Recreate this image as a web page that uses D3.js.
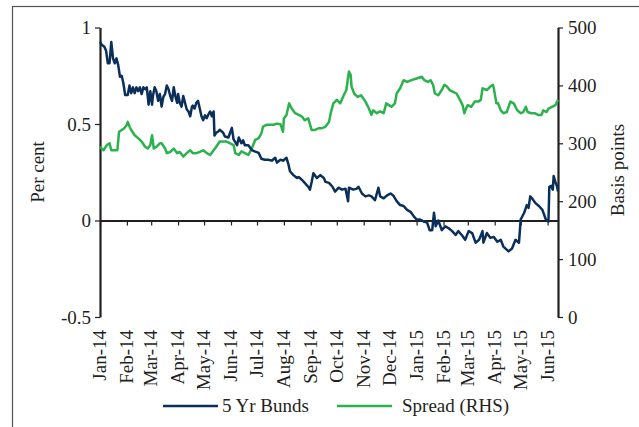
<!DOCTYPE html>
<html>
<head>
<meta charset="utf-8">
<script src="https://d3js.org/d3.v7.min.js"></script>
<style>
  body { margin: 0; background: #fff; }
  text { font-family: "Liberation Serif", serif; fill: #231f20; }
</style>
</head>
<body>
<div id="chart"></div>
<script>
// 5 Yr Bunds yield (per cent, left axis)
var bundDates = ["2014-01-01","2014-01-03","2014-01-06","2014-01-08","2014-01-10","2014-01-12","2014-01-14","2014-01-16","2014-01-18","2014-01-20","2014-01-22","2014-01-24","2014-01-26","2014-01-28","2014-01-30","2014-02-02","2014-02-04","2014-02-06","2014-02-08","2014-02-10","2014-02-12","2014-02-14","2014-02-16","2014-02-18","2014-02-20","2014-02-22","2014-02-24","2014-02-26","2014-02-28","2014-03-02","2014-03-03","2014-03-05","2014-03-07","2014-03-09","2014-03-11","2014-03-13","2014-03-15","2014-03-17","2014-03-19","2014-03-21","2014-03-23","2014-03-25","2014-03-27","2014-03-29","2014-03-31","2014-04-01","2014-04-03","2014-04-05","2014-04-07","2014-04-09","2014-04-11","2014-04-13","2014-04-15","2014-04-17","2014-04-18","2014-04-20","2014-04-22","2014-04-24","2014-04-26","2014-04-28","2014-04-30","2014-05-02","2014-05-04","2014-05-06","2014-05-08","2014-05-10","2014-05-12","2014-05-13","2014-05-15","2014-05-17","2014-05-19","2014-05-23","2014-05-25","2014-05-29","2014-06-02","2014-06-04","2014-06-08","2014-06-10","2014-06-13","2014-06-15","2014-06-17","2014-06-21","2014-06-25","2014-06-29","2014-07-03","2014-07-06","2014-07-10","2014-07-14","2014-07-18","2014-07-22","2014-07-24","2014-07-28","2014-07-31","2014-08-04","2014-08-06","2014-08-08","2014-08-12","2014-08-16","2014-08-18","2014-08-22","2014-08-25","2014-08-29","2014-08-31","2014-09-02","2014-09-04","2014-09-08","2014-09-12","2014-09-16","2014-09-18","2014-09-22","2014-09-26","2014-09-29","2014-10-03","2014-10-07","2014-10-11","2014-10-14","2014-10-15","2014-10-20","2014-10-24","2014-10-26","2014-10-30","2014-11-03","2014-11-07","2014-11-10","2014-11-14","2014-11-18","2014-11-20","2014-11-24","2014-11-28","2014-12-02","2014-12-05","2014-12-09","2014-12-13","2014-12-17","2014-12-21","2014-12-25","2014-12-29","2015-01-01","2015-01-05","2015-01-09","2015-01-13","2015-01-16","2015-01-19","2015-01-21","2015-01-23","2015-01-26","2015-01-30","2015-02-03","2015-02-07","2015-02-11","2015-02-15","2015-02-18","2015-02-22","2015-02-26","2015-03-02","2015-03-06","2015-03-10","2015-03-14","2015-03-18","2015-03-19","2015-03-23","2015-03-27","2015-03-31","2015-04-04","2015-04-08","2015-04-11","2015-04-17","2015-04-21","2015-04-25","2015-04-29","2015-05-01","2015-05-05","2015-05-08","2015-05-10","2015-05-12","2015-05-14","2015-05-18","2015-05-22","2015-05-26","2015-05-30","2015-06-02","2015-06-03","2015-06-05","2015-06-07","2015-06-08","2015-06-10","2015-06-12","2015-06-13"];
var bundValues = [0.925,0.91,0.90,0.88,0.815,0.815,0.925,0.84,0.815,0.84,0.805,0.745,0.75,0.71,0.65,0.65,0.70,0.66,0.69,0.66,0.69,0.67,0.69,0.655,0.69,0.68,0.69,0.60,0.67,0.60,0.645,0.69,0.67,0.62,0.655,0.59,0.64,0.655,0.70,0.68,0.645,0.62,0.69,0.64,0.61,0.655,0.61,0.59,0.645,0.61,0.575,0.565,0.54,0.59,0.595,0.58,0.61,0.62,0.58,0.54,0.52,0.545,0.53,0.55,0.565,0.54,0.565,0.44,0.455,0.46,0.47,0.455,0.435,0.43,0.48,0.42,0.39,0.43,0.40,0.415,0.39,0.39,0.365,0.357,0.35,0.32,0.315,0.315,0.31,0.325,0.30,0.315,0.31,0.325,0.295,0.255,0.235,0.22,0.225,0.21,0.195,0.175,0.16,0.20,0.245,0.22,0.235,0.22,0.20,0.195,0.175,0.15,0.17,0.16,0.165,0.10,0.17,0.16,0.165,0.175,0.14,0.125,0.13,0.125,0.105,0.17,0.125,0.115,0.13,0.14,0.13,0.10,0.08,0.075,0.055,0.045,0.02,0.005,0.005,-0.005,-0.01,-0.05,-0.05,0.04,-0.03,0.0,-0.05,-0.03,-0.04,-0.055,-0.075,-0.055,-0.075,-0.10,-0.055,-0.065,-0.115,-0.10,-0.055,-0.115,-0.065,-0.09,-0.085,-0.11,-0.10,-0.135,-0.16,-0.145,-0.10,-0.115,0.005,0.04,0.08,0.065,0.125,0.115,0.09,0.075,0.055,0.005,-0.005,0.175,0.18,0.16,0.23,0.20,0.175,0.15];

// Spread (basis points, right axis)
var spreadDates = ["2014-01-01","2014-01-05","2014-01-09","2014-01-12","2014-01-14","2014-01-18","2014-01-21","2014-01-23","2014-01-26","2014-01-29","2014-02-01","2014-02-02","2014-02-04","2014-02-06","2014-02-10","2014-02-14","2014-02-18","2014-02-22","2014-02-25","2014-02-28","2014-03-02","2014-03-04","2014-03-07","2014-03-11","2014-03-13","2014-03-17","2014-03-19","2014-03-23","2014-03-27","2014-03-31","2014-04-03","2014-04-07","2014-04-11","2014-04-15","2014-04-18","2014-04-22","2014-04-26","2014-04-30","2014-05-04","2014-05-08","2014-05-12","2014-05-15","2014-05-19","2014-05-23","2014-05-27","2014-05-31","2014-06-04","2014-06-06","2014-06-10","2014-06-13","2014-06-17","2014-06-21","2014-06-25","2014-06-29","2014-07-03","2014-07-06","2014-07-08","2014-07-12","2014-07-16","2014-07-20","2014-07-24","2014-07-28","2014-07-31","2014-08-01","2014-08-04","2014-08-07","2014-08-10","2014-08-14","2014-08-18","2014-08-22","2014-08-25","2014-08-29","2014-09-02","2014-09-06","2014-09-10","2014-09-14","2014-09-18","2014-09-22","2014-09-24","2014-09-27","2014-10-01","2014-10-05","2014-10-09","2014-10-12","2014-10-15","2014-10-17","2014-10-18","2014-10-21","2014-10-25","2014-10-29","2014-11-03","2014-11-07","2014-11-10","2014-11-12","2014-11-16","2014-11-20","2014-11-24","2014-11-27","2014-11-30","2014-12-03","2014-12-07","2014-12-09","2014-12-13","2014-12-17","2014-12-21","2014-12-26","2015-01-01","2015-01-07","2015-01-10","2015-01-14","2015-01-17","2015-01-20","2015-01-22","2015-01-26","2015-01-30","2015-02-02","2015-02-05","2015-02-08","2015-02-12","2015-02-16","2015-02-20","2015-02-23","2015-02-25","2015-02-27","2015-03-01","2015-03-05","2015-03-09","2015-03-13","2015-03-16","2015-03-18","2015-03-23","2015-03-27","2015-03-30","2015-03-31","2015-04-03","2015-04-05","2015-04-08","2015-04-11","2015-04-15","2015-04-19","2015-04-23","2015-04-27","2015-05-01","2015-05-04","2015-05-07","2015-05-09","2015-05-13","2015-05-17","2015-05-21","2015-05-25","2015-05-27","2015-05-31","2015-06-02","2015-06-06","2015-06-10","2015-06-13"];
var spreadValues = [294,288,297,300,288,288,288,320,323,326,332,337,329,323,314,309,303,294,291,297,314,291,294,300,300,291,283,285,291,283,285,277,283,288,283,283,285,288,283,280,288,294,303,303,303,300,297,283,280,286,283,280,291,306,309,317,329,332,332,332,334,333,320,343,349,369,360,352,349,346,340,343,323,323,326,326,329,337,352,369,375,369,383,392,424,418,398,386,380,383,372,360,349,357,352,355,352,369,366,363,369,386,395,409,406,409,412,415,409,406,409,401,386,383,392,401,398,392,389,386,375,366,352,360,366,363,372,372,375,395,392,398,401,395,369,369,357,352,354,372,369,357,352,354,363,354,352,352,349,349,357,354,360,363,366,375];

var leftTicks = [-0.5, 0, 0.5, 1];
var rightTicks = [0, 100, 200, 300, 400, 500];
var seriesNames = ["5 Yr Bunds", "Spread (RHS)"];
var seriesColors = ["#0b2f5b", "#2bb24c"];

var width = 639, height = 427;
var parse = d3.timeParse("%Y-%m-%d");

var svg = d3.select("#chart").append("svg")
  .attr("width", width)
  .attr("height", height);

// outer frame (cropped on right and bottom)
svg.append("rect")
  .attr("x", 12.5).attr("y", 6.5)
  .attr("width", 700).attr("height", 500)
  .attr("fill", "none")
  .attr("stroke", "#555")
  .attr("stroke-width", 1.2);

var x = d3.scaleTime()
  .domain([parse("2014-01-01"), parse("2015-06-13")])
  .range([100, 558]);

var yL = d3.scaleLinear().domain([-0.5, 1]).range([317, 27.5]);
var yR = d3.scaleLinear().domain([0, 500]).range([317, 27.5]);

var bunds = bundDates.map(function(d, i) { return { date: parse(d), v: bundValues[i] }; });
var spread = spreadDates.map(function(d, i) { return { date: parse(d), v: spreadValues[i] }; });

// x axis along zero line
var months = d3.timeMonth.range(parse("2014-01-01"), parse("2015-06-02"));
var xAxis = svg.append("g")
  .attr("transform", "translate(0," + yL(0) + ")")
  .call(d3.axisBottom(x).tickValues(months).tickSize(5).tickSizeOuter(0).tickFormat(""));
xAxis.select(".domain").attr("stroke", "#231f20").attr("stroke-width", 2.2);
xAxis.selectAll(".tick line").attr("stroke", "#231f20").attr("stroke-width", 1.2);

// month labels at the bottom, rotated
svg.append("g").selectAll("text")
  .data(months)
  .enter().append("text")
  .attr("transform", function(d) { return "translate(" + x(d) + ",330) rotate(-90)"; })
  .attr("dy", "0.33em")
  .style("text-anchor", "end")
  .style("font-size", "19px")
  .text(d3.timeFormat("%b-%y"));

// left axis
var gL = svg.append("g")
  .attr("transform", "translate(100,0)")
  .call(d3.axisLeft(yL).tickValues(leftTicks).tickSize(5).tickSizeOuter(0).tickPadding(4)
    .tickFormat(function(d) { return d === 0 ? "0" : String(d); }));
gL.select(".domain").attr("stroke", "#231f20").attr("stroke-width", 2.2);
gL.selectAll(".tick line").attr("stroke", "#231f20").attr("stroke-width", 1.2);
gL.selectAll(".tick text").style("font-size", "19px").style("font-family", "Liberation Serif").attr("fill", "#231f20");

// right axis
var gR = svg.append("g")
  .attr("transform", "translate(558,0)")
  .call(d3.axisRight(yR).tickValues(rightTicks).tickSize(5).tickSizeOuter(0).tickPadding(5));
gR.select(".domain").attr("stroke", "#231f20").attr("stroke-width", 2.2);
gR.selectAll(".tick line").attr("stroke", "#231f20").attr("stroke-width", 1.2);
gR.selectAll(".tick text").style("font-size", "19px").style("font-family", "Liberation Serif").attr("fill", "#231f20");

// axis titles
svg.append("text")
  .attr("transform", "translate(38,172) rotate(-90)")
  .attr("dy", "0.33em")
  .style("text-anchor", "middle")
  .style("font-size", "19px")
  .text("Per cent");

svg.append("text")
  .attr("transform", "translate(618,170) rotate(-90)")
  .attr("dy", "0.33em")
  .style("text-anchor", "middle")
  .style("font-size", "19px")
  .text("Basis points");

// lines
var lineL = d3.line().x(function(d) { return x(d.date); }).y(function(d) { return yL(d.v); });
var lineR = d3.line().x(function(d) { return x(d.date); }).y(function(d) { return yR(d.v); });

svg.append("path")
  .datum(spread)
  .attr("fill", "none")
  .attr("stroke", seriesColors[1])
  .attr("stroke-width", 2.5)
  .attr("stroke-linejoin", "round")
  .attr("d", lineR);

svg.append("path")
  .datum(bunds)
  .attr("fill", "none")
  .attr("stroke", seriesColors[0])
  .attr("stroke-width", 2.5)
  .attr("stroke-linejoin", "round")
  .attr("d", lineL);

// legend
var legendX = [163, 337];
var legend = svg.append("g").selectAll("g")
  .data(seriesNames)
  .enter().append("g")
  .attr("transform", function(d, i) { return "translate(" + legendX[i] + ",406)"; });

legend.append("line")
  .attr("x1", 0).attr("x2", 55)
  .attr("stroke", function(d, i) { return seriesColors[i]; })
  .attr("stroke-width", 2.5);

legend.append("text")
  .attr("x", function(d, i) { return i === 0 ? 59 : 65; })
  .attr("dy", "0.33em")
  .style("font-size", "19px")
  .text(function(d) { return d; });
</script>
</body>
</html>
